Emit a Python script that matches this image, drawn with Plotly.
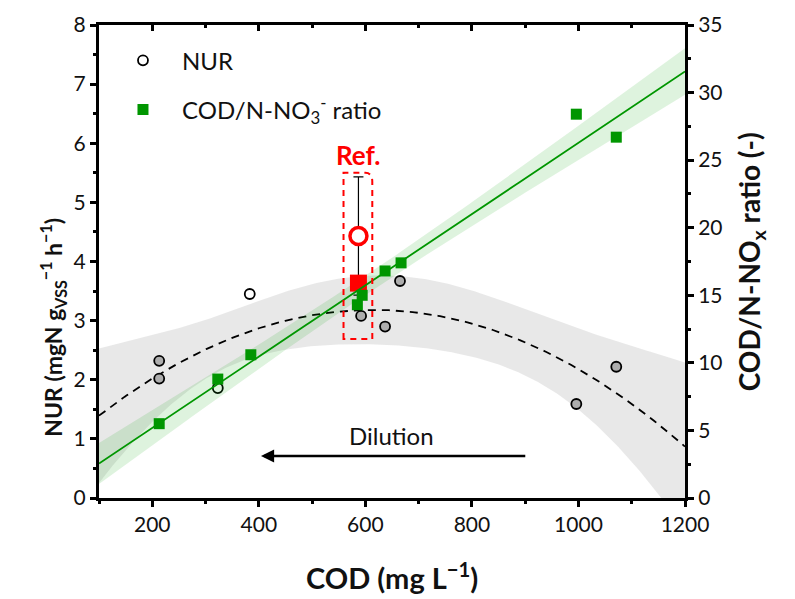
import numpy as np
import plotly.graph_objects as go

# --- measured data -------------------------------------------------------
nur_cod = [213, 213, 323, 383, 592, 637, 665, 996, 1071]
nur_val = [2.32, 2.02, 1.86, 3.45, 3.08, 2.90, 3.67, 1.59, 2.22]

ratio_cod = [213, 323, 385, 585, 594, 637, 667, 996, 1071]
ratio_val = [5.5, 8.8, 10.6, 14.3, 15.0, 16.8, 17.4, 28.4, 26.7]

# reference (undiluted) sample
ref_cod = 587
ref_nur = 4.43
ref_nur_err = 1.0
ref_ratio = 15.9

x_ticks = [200, 400, 600, 800, 1000, 1200]
y_ticks = [0, 1, 2, 3, 4, 5, 6, 7, 8]
y2_ticks = [0, 5, 10, 15, 20, 25, 30, 35]

# --- regression with 90 % confidence band --------------------------------
T90 = {5: 2.015, 6: 1.943, 7: 1.895, 8: 1.860}


def poly_fit_band(x, y, deg, xg):
    x = np.asarray(x, float)
    y = np.asarray(y, float)
    X = np.vander(x, deg + 1)
    beta, *_ = np.linalg.lstsq(X, y, rcond=None)
    resid = y - X @ beta
    dof = len(x) - (deg + 1)
    s2 = resid @ resid / dof
    cov = s2 * np.linalg.inv(X.T @ X)
    Xg = np.vander(xg, deg + 1)
    yg = Xg @ beta
    se = np.sqrt(np.einsum("ij,jk,ik->i", Xg, cov, Xg))
    t = T90[dof]
    return yg, yg - t * se, yg + t * se


xg = np.linspace(100, 1200, 300)
nur_fit, nur_lo, nur_hi = poly_fit_band(nur_cod, nur_val, 2, xg)
rat_fit, rat_lo, rat_hi = poly_fit_band(ratio_cod, ratio_val, 1, xg)

# circles lying inside the grey band get a grey fill
nv = np.array(nur_val)
nur_in_band = (np.interp(nur_cod, xg, nur_lo) <= nv) & (nv <= np.interp(nur_cod, xg, nur_hi))
nur_fill = ["#adadad" if b else "white" for b in nur_in_band]

GREEN = "#009600"
RED = "#ff0000"
FONT = "Lato"
INK = "#111111"

fig = go.Figure()

# NUR quadratic confidence band
fig.add_trace(go.Scatter(x=np.concatenate([xg, xg[::-1]]),
                         y=np.concatenate([nur_hi, nur_lo[::-1]]),
                         fill="toself", fillcolor="rgba(200,200,200,0.42)",
                         line=dict(width=0), hoverinfo="skip", showlegend=False,
                         xaxis="x", yaxis="y"))
# ratio linear confidence band
fig.add_trace(go.Scatter(x=np.concatenate([xg, xg[::-1]]),
                         y=np.concatenate([rat_hi, rat_lo[::-1]]),
                         fill="toself", fillcolor="rgba(0,160,0,0.13)",
                         line=dict(width=0), hoverinfo="skip", showlegend=False,
                         xaxis="x", yaxis="y2"))
# NUR quadratic fit
fig.add_trace(go.Scatter(x=xg, y=nur_fit, mode="lines",
                         line=dict(color="black", width=1.8, dash="8px,6px"),
                         showlegend=False, xaxis="x", yaxis="y"))
# NUR points
fig.add_trace(go.Scatter(x=nur_cod, y=nur_val, mode="markers", showlegend=False,
                         marker=dict(symbol="circle", size=10, color=nur_fill,
                                     line=dict(color="black", width=1.8)),
                         xaxis="x", yaxis="y"))
# reference ratio
fig.add_trace(go.Scatter(x=[ref_cod], y=[ref_ratio], mode="markers",
                         marker=dict(symbol="square", size=17, color=RED),
                         showlegend=False, xaxis="x", yaxis="y2"))
# reference NUR with error bar
fig.add_trace(go.Scatter(x=[ref_cod], y=[ref_nur], mode="markers",
                         marker=dict(symbol="circle", size=17, color="white",
                                     line=dict(color=RED, width=3.5)),
                         error_y=dict(type="data", array=[ref_nur_err],
                                      color="black", thickness=1.2, width=5),
                         showlegend=False, xaxis="x", yaxis="y"))
# ratio linear fit
fig.add_trace(go.Scatter(x=xg, y=rat_fit, mode="lines",
                         line=dict(color=GREEN, width=1.8),
                         showlegend=False, xaxis="x", yaxis="y2"))
# ratio points
fig.add_trace(go.Scatter(x=ratio_cod, y=ratio_val, mode="markers",
                         name="COD/N-NO<sub>3</sub><sup>-</sup> ratio",
                         legendgroup="b", legendrank=2,
                         marker=dict(symbol="square", size=11, color=GREEN),
                         xaxis="x", yaxis="y2"))
# legend entry for NUR
fig.add_trace(go.Scatter(x=[None], y=[None], mode="markers", name="NUR",
                         legendgroup="a", legendrank=1,
                         marker=dict(symbol="circle", size=10, color="white",
                                     line=dict(color="black", width=1.8)),
                         xaxis="x", yaxis="y"))
# carrier for the top mirrored axis
fig.add_trace(go.Scatter(x=[None], y=[None], xaxis="x2", yaxis="y",
                         showlegend=False, hoverinfo="skip"))

tickfont = dict(family=FONT, size=21, color=INK)
axcommon = dict(showline=True, linecolor="black", linewidth=3,
                showgrid=False, zeroline=False, tickcolor="black",
                tickwidth=2.5, ticklen=6, tickfont=tickfont)

fig.update_layout(
    width=795, height=599,
    margin=dict(l=99, r=110, t=25, b=101),
    plot_bgcolor="white", paper_bgcolor="white",
    xaxis=dict(range=[100, 1200], tickvals=x_ticks, ticks="outside",
               minor=dict(dtick=100, tick0=100, ticks="outside", ticklen=3,
                          tickwidth=2.5, tickcolor="black"),
               anchor="y", **axcommon),
    xaxis2=dict(range=[100, 1200], tickvals=x_ticks, ticks="inside",
                showticklabels=False, overlaying="x", side="top", anchor="y",
                minor=dict(dtick=100, tick0=100, ticks="inside", ticklen=3,
                           tickwidth=2.5, tickcolor="black"),
                **axcommon),
    yaxis=dict(range=[0, 8], tickvals=y_ticks, ticks="outside",
               minor=dict(dtick=0.5, ticks="outside", ticklen=3,
                          tickwidth=2.5, tickcolor="black"),
               anchor="x", **axcommon),
    yaxis2=dict(range=[0, 35], tickvals=y2_ticks, ticks="outside",
                minor=dict(dtick=2.5, ticks="outside", ticklen=3,
                           tickwidth=2.5, tickcolor="black"),
                overlaying="y", side="right", anchor="x", **axcommon),
    legend=dict(x=0.0085, y=0.972, xanchor="left", yanchor="top",
                bgcolor="rgba(0,0,0,0)", tracegroupgap=15, itemwidth=68,
                font=dict(family=FONT, size=24, color=INK)),
    showlegend=True,
)

# reference box
fig.add_shape(type="path", xref="x", yref="y",
              path="M 559,2.69 L 559,5.50 L 600,5.50 Q 613,5.50 613,5.35 L 613,2.69 Z",
              line=dict(color=RED, width=2, dash="6px,5px"))

nur_title = "<b>NUR (mgN g<sub>VSS</sub><sup>\u22121</sup> h<sup>\u22121</sup>)</b>"

annotations = [
    dict(x=ref_cod, y=5.80, xref="x", yref="y", text="<b>Ref.</b>", showarrow=False,
         font=dict(family=FONT, size=26, color=RED)),
    dict(x=649, y=1.05, xref="x", yref="y", text="Dilution", showarrow=False,
         font=dict(family=FONT, size=24, color=INK)),
    dict(x=404, y=0.71, xref="x", yref="y", ax=903, ay=0.71, axref="x", ayref="y",
         text="", showarrow=True, arrowhead=2, arrowsize=1.1, arrowwidth=2.4,
         arrowcolor="black"),
    dict(x=0.5, y=-0.21, xref="paper", yref="paper",
         text="<b>COD (mg L<sup>\u22121</sup>)</b>", showarrow=False,
         font=dict(family=FONT, size=29, color=INK)),
    dict(x=-0.11, y=0.36, xref="paper", yref="paper", textangle=-90,
         text=nur_title, showarrow=False,
         font=dict(family=FONT, size=23, color=INK)),
    dict(x=1.148, y=0.5, xref="paper", yref="paper", textangle=-90,
         text="<b>COD/N-NO<sub>x</sub> ratio (-)</b>",
         showarrow=False, font=dict(family=FONT, size=28, color=INK)),
]
fig.update_layout(annotations=annotations)

fig.write_html("out.html")
